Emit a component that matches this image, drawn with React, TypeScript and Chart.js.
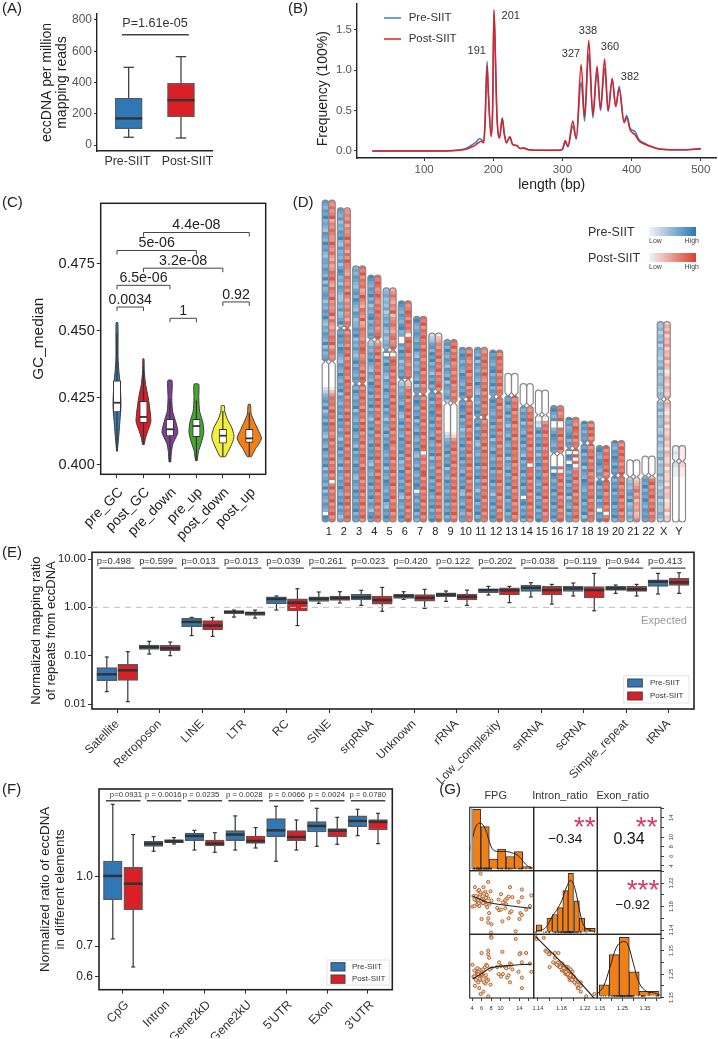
import React, { useEffect, useRef } from "react";
import { Chart, registerables } from "chart.js";
Chart.register(...registerables);

const FONT = '"Liberation Sans", Arial, sans-serif';
const BLUE = "#2f78b5";
const RED = "#da1f26";

// ---------- Panel A ----------
const aGroups = ["Pre-SIIT", "Post-SIIT"];
const aLow = [50, 45];
const aQ1 = [105, 182];
const aMed = [170, 287];
const aQ3 = [298, 395];
const aHigh = [497, 565];
const aTicks = [0, 200, 400, 600, 800];

// ---------- Panel B ----------
const bLengths = [25, 100, 140, 150, 160, 170, 175, 180, 183, 186, 188, 191, 193, 197, 199, 201, 203, 205, 209, 213, 216, 219, 224, 228, 234, 239, 244, 251, 270, 295, 300, 304, 308, 315, 320, 327, 332, 338, 344, 350, 355, 361, 366, 372, 377, 382, 389, 393, 398, 405, 410, 420, 430, 440, 460, 480, 500];
const bPre = [0, 0, 0.005, 0.012, 0.03, 0.08, 0.11, 0.15, 0.14, 0.11, 0.35, 1.11, 0.7, 0.18, 0.5, 1.72, 1.2, 0.5, 0.17, 0.41, 0.22, 0.11, 0.18, 0.08, 0.07, 0.03, 0.04, 0.015, 0.008, 0.008, 0.02, 0.11, 0.05, 0.31, 0.15, 0.85, 0.37, 1.2, 0.41, 0.98, 0.5, 1.02, 0.49, 0.88, 0.55, 0.8, 0.37, 0.44, 0.28, 0.24, 0.15, 0.09, 0.05, 0.025, 0.015, 0.015, 0.025];
const bPost = [0, 0, 0.004, 0.008, 0.02, 0.055, 0.08, 0.11, 0.12, 0.1, 0.3, 1.05, 0.7, 0.18, 0.5, 1.75, 1.2, 0.5, 0.16, 0.4, 0.2, 0.1, 0.17, 0.08, 0.065, 0.03, 0.035, 0.015, 0.008, 0.008, 0.02, 0.13, 0.06, 0.37, 0.15, 1.07, 0.42, 1.37, 0.45, 1.05, 0.52, 1.14, 0.5, 0.9, 0.55, 0.77, 0.35, 0.41, 0.26, 0.2, 0.13, 0.08, 0.05, 0.025, 0.015, 0.015, 0.03];
const bXTicks = [100, 200, 300, 400, 500];
const bYTicks = [0, 0.5, 1, 1.5];

// ---------- Panel C ----------
const cGroups = ["pre_GC", "post_GC", "pre_down", "pre_up", "post_down", "post_up"];
const cLevels = [
  [0.405, 0.41, 0.415, 0.42, 0.423, 0.43, 0.435, 0.44, 0.45, 0.453],
  [0.4075, 0.41, 0.413, 0.416, 0.42, 0.425, 0.43, 0.435, 0.4395],
  [0.401, 0.405, 0.408, 0.412, 0.416, 0.42, 0.425, 0.43, 0.4315],
  [0.4015, 0.405, 0.408, 0.412, 0.416, 0.42, 0.425, 0.43],
  [0.403, 0.406, 0.409, 0.411, 0.414, 0.417, 0.42, 0.422],
  [0.403, 0.406, 0.408, 0.41, 0.413, 0.416, 0.419, 0.4225],
];
const cHalfWidths = [
  [0.01, 0.06, 0.1, 0.14, 0.15, 0.12, 0.07, 0.04, 0.04, 0.03],
  [0.03, 0.08, 0.18, 0.28, 0.25, 0.18, 0.08, 0.03, 0.02],
  [0.03, 0.06, 0.12, 0.3, 0.22, 0.1, 0.07, 0.09, 0.07],
  [0.03, 0.08, 0.18, 0.28, 0.24, 0.12, 0.09, 0.09],
  [0.1, 0.26, 0.39, 0.42, 0.33, 0.17, 0.07, 0.06],
  [0.08, 0.24, 0.38, 0.46, 0.33, 0.19, 0.07, 0.04],
];
const cLow = [0.405, 0.4075, 0.401, 0.4015, 0.403, 0.403];
const cQ1 = [0.4197, 0.4157, 0.4107, 0.4104, 0.408, 0.4083];
const cMed = [0.4231, 0.4178, 0.4132, 0.4144, 0.4108, 0.4098];
const cQ3 = [0.4313, 0.4236, 0.4169, 0.4169, 0.4132, 0.4132];
const cHigh = [0.449, 0.4365, 0.4245, 0.424, 0.42, 0.4195];
const cColors = ["#3a7dba", "#d81e24", "#7e3f98", "#45a82e", "#f4ef3a", "#f57f17"];
const cTicks = [0.4, 0.425, 0.45, 0.475];
const cBrackets: [number, number, number, string][] = [
  [0, 1, 0.4588, "0.0034"],
  [2, 3, 0.4546, "1"],
  [4, 5, 0.4607, "0.92"],
  [0, 2, 0.4669, "6.5e-06"],
  [1, 4, 0.4733, "3.2e-08"],
  [0, 3, 0.4799, "5e-06"],
  [1, 5, 0.4866, "4.4e-08"],
];

// ---------- Panel D ----------
const chrNames = ["1", "2", "3", "4", "5", "6", "7", "8", "9", "10", "11", "12", "13", "14", "15", "16", "17", "18", "19", "20", "21", "22", "X", "Y"];
const chrLengths = [249, 243, 198, 191, 181, 171, 159, 146, 141, 135, 135, 133, 115, 107, 102, 90, 81, 78, 59, 63, 48, 51, 155, 59];
const chrCentromeres = [125, 93, 91, 50, 48, 61, 60, 45, 49, 40, 54, 36, 17, 17, 19, 37, 24, 17, 26, 27, 13, 15, 60, 12];
const prePArm = [
  "76576856547658675466576584756764657685465765847567",
  "7657465768547565746875647654465745684",
  "565765467586547645576846575468576576",
  "87657685746578576576",
  "4564546356575464565",
  "876576578560075867465768",
  "786567657685475657658476",
  "234675868576476857",
  "67586576476584765673",
  "7687576587657686",
  "7658476576586547657686",
  "86765785768576",
  "0",
  "0",
  "0",
  "786570056876576",
  "8675678576",
  "8675767",
  "7865786575",
  "86576875867",
  "0",
  "0",
  "445354635443546354454354",
  "11211",
];
const preQArm = [
  "00000000235675846758675476586576847567584765765087",
  "768675876547658657684765767586757647685765847657686576857646",
  "7586576847657686576485765867547658675768576",
  "34657686547658768576857647685765867685476576857685764786",
  "70758675476586576857647658576876576847658765768547686",
  "34656765875468576586768574658675768547657686",
  "7687576847658657685476586576870675768575",
  "7685768768576586576847657685768657685768",
  "0000000002356768576847658675768576857",
  "76876857646576857685765867685476586576",
  "76857685476576857685764768576857",
  "686765768576847658657685768576476857686",
  "768568576476586576847658576857685768576",
  "757684765868576485768576857707857685",
  "203268576857476857686576857685768",
  "000070875768576857685",
  "70870875768576847658576",
  "768576847658765768576847",
  "7857685760768",
  "85768576857685",
  "34546758456464",
  "57685768657676",
  "35463544534635435463544635435463544653",
  "2211100000000000000",
];
const postPArm = [
  "65756846576558657546457685476585656847546576846756",
  "5565746568576475866547657586465756476",
  "768576745865476584576657687567658587",
  "76875686576867675678",
  "4575465835675467568",
  "756875867507867857657668",
  "768576867586757685768576",
  "134657685768576785",
  "76857685675768567576",
  "7586576857685768",
  "6576867586576857685768",
  "75867685768576",
  "0",
  "0",
  "0",
  "675680076857685",
  "7658768576",
  "7586857",
  "8576876857",
  "75868675768",
  "0",
  "0",
  "243524352435243124324324",
  "11111",
];
const postQArm = [
  "00000000135767586758675685767585768570685768576857",
  "857675868576867586768576758685768576857685768576867586857686",
  "8576867586758685768576867587685768576857685",
  "25768586768576867586857685768576857685768586768576857686",
  "50687685768576858676857685768657685768576857685768576",
  "23576857686857685768576857685768576857685768",
  "8576857685768576870675768857685768576857",
  "8576876857685768576857685768576857685768",
  "0000000001257685768576857685768576857",
  "85768676857685768576857685768586768576",
  "85768576858676857685857685768576",
  "768576857685768576857685768576857685768",
  "857685768576857686768576857685768576857",
  "657685768576857687077685768576857685",
  "205768576857685768576857685768576",
  "000070768576857685768",
  "80807057685768576857685",
  "857685768576857685768576",
  "8768576857068",
  "76857685768576",
  "23457463545346",
  "36857685768576",
  "24321324132342314322413223142331224132",
  "2211100000000000000",
];

// ---------- Panel E ----------
const eCats = ["Satellite", "Retroposon", "LINE", "LTR", "RC", "SINE", "srpRNA", "Unknown", "rRNA", "Low_complexity", "snRNA", "scRNA", "Simple_repeat", "tRNA"];
const ePre = {
  low: [0.018, 0.108, 0.26, 0.63, 0.88, 1.21, 1.1, 1.46, 1.33, 1.8, 1.64, 1.72, 1.95, 1.89],
  q1: [0.0304, 0.135, 0.4, 0.74, 1.19, 1.33, 1.42, 1.53, 1.66, 2.01, 2.14, 2.14, 2.25, 2.72],
  med: [0.0411, 0.151, 0.5, 0.81, 1.49, 1.51, 1.61, 1.72, 1.83, 2.28, 2.55, 2.47, 2.47, 3.4],
  q3: [0.0565, 0.166, 0.59, 0.85, 1.66, 1.66, 1.86, 1.89, 2.01, 2.43, 2.9, 2.76, 2.72, 3.73],
  high: [0.094, 0.198, 0.62, 0.88, 1.72, 2.08, 2.25, 2.11, 2.18, 2.72, 3.24, 3.19, 2.9, 5.05],
};
const ePost = {
  low: [0.0112, 0.1, 0.25, 0.6, 0.42, 1.23, 0.83, 0.95, 1.1, 1.25, 1.17, 0.85, 1.72, 1.95],
  q1: [0.0309, 0.127, 0.34, 0.68, 0.84, 1.4, 1.17, 1.35, 1.42, 1.8, 1.8, 1.56, 2.14, 2.85],
  med: [0.0497, 0.142, 0.42, 0.76, 1.25, 1.56, 1.42, 1.58, 1.66, 2.25, 2.28, 2.28, 2.36, 3.29],
  q3: [0.066, 0.164, 0.53, 0.81, 1.51, 1.72, 1.72, 1.83, 1.89, 2.55, 2.72, 2.68, 2.72, 3.98],
  high: [0.121, 0.192, 0.62, 0.88, 2.43, 2.11, 2.59, 2.36, 2.28, 2.72, 2.99, 5.05, 2.99, 5.21],
};
const ePValues = ["p=0.498", "p=0.599", "p=0.013", "p=0.013", "p=0.039", "p=0.261", "p=0.023", "p=0.420", "p=0.122", "p=0.202", "p=0.038", "p=0.119", "p=0.944", "p=0.413"];
const eTicks = [0.01, 0.1, 1, 10];

// ---------- Panel F ----------
const fCats = ["CpG", "Intron", "Gene2kD", "Gene2kU", "5'UTR", "Exon", "3'UTR"];
const fPre = {
  low: [0.726, 1.137, 1.144, 1.144, 1.08, 1.166, 1.231],
  q1: [0.887, 1.166, 1.2, 1.2, 1.225, 1.255, 1.289],
  med: [1.002, 1.182, 1.229, 1.238, 1.265, 1.294, 1.327],
  q3: [1.081, 1.196, 1.247, 1.263, 1.343, 1.323, 1.362],
  high: [1.445, 1.225, 1.265, 1.362, 1.431, 1.416, 1.409],
};
const fPost = {
  low: [0.629, 1.18, 1.131, 1.156, 1.144, 1.178, 1.182],
  q1: [0.843, 1.188, 1.168, 1.184, 1.2, 1.225, 1.268],
  med: [0.963, 1.196, 1.182, 1.198, 1.223, 1.263, 1.321],
  q3: [1.047, 1.206, 1.204, 1.229, 1.263, 1.276, 1.336],
  high: [1.238, 1.219, 1.25, 1.283, 1.334, 1.352, 1.38],
};
const fPValues = ["p=0.0931", "p = 0.0016", "p = 0.0235", "p = 0.0028", "p = 0.0066", "p = 0.0024", "p = 0.0780"];
const fTicks = [0.6, 0.7, 1.0];

// ---------- Panel G ----------
const gFpg = [5.8, 7.4, 4.6, 5.3, 5.5, 5.8, 6.4, 6.8, 7.9, 12, 14.5, 14.5, 16.5, 4.3, 5, 5.7, 7, 7.4, 8.1, 10.1, 10.5, 11, 11.4, 11.7, 12.5, 4.1, 4.5, 5.5, 6, 6.7, 7, 7.6, 7.4, 7.4, 6, 10.4, 9.7, 10.1, 12, 11.7, 11, 14.2, 14.5, 15.4, 16.2, 14, 13.2, 8, 8.1, 4.5, 5, 5.2, 5.6, 6.1, 6.3, 6.6, 7.1, 7.7, 5.1, 5.9, 6.5, 7.2, 4.8, 5.4, 9.3, 9.6, 11.2, 12.3, 13.8, 6.9, 5.3];
const gIntron = [1.236, 1.222, 1.213, 1.207, 1.208, 1.204, 1.213, 1.205, 1.206, 1.213, 1.209, 1.196, 1.199, 1.198, 1.194, 1.2, 1.196, 1.194, 1.19, 1.201, 1.187, 1.191, 1.194, 1.197, 1.196, 1.18, 1.181, 1.181, 1.187, 1.188, 1.183, 1.169, 1.16, 1.153, 1.159, 1.155, 1.174, 1.175, 1.17, 1.16, 1.177, 1.169, 1.166, 1.175, 1.181, 1.159, 1.138, 1.136, 1.15, 1.192, 1.19, 1.188, 1.196, 1.193, 1.186, 1.194, 1.2, 1.185, 1.184, 1.19, 1.202, 1.179, 1.198, 1.186, 1.178, 1.192, 1.184, 1.172, 1.188, 1.195, 1.191];
const gExon = [1.165, 1.155, 1.2, 1.215, 1.19, 1.225, 1.175, 1.21, 1.205, 1.215, 1.19, 1.235, 1.26, 1.24, 1.25, 1.235, 1.23, 1.225, 1.275, 1.24, 1.25, 1.28, 1.235, 1.245, 1.27, 1.29, 1.265, 1.27, 1.255, 1.28, 1.29, 1.32, 1.335, 1.35, 1.34, 1.345, 1.3, 1.285, 1.295, 1.28, 1.28, 1.34, 1.3, 1.34, 1.295, 1.335, 1.4, 1.41, 1.405, 1.24, 1.255, 1.26, 1.23, 1.245, 1.27, 1.24, 1.22, 1.27, 1.275, 1.25, 1.215, 1.285, 1.225, 1.26, 1.28, 1.25, 1.275, 1.29, 1.26, 1.245, 1.25];
const gFpgBins = [4.95, 6.75, 8.5, 10.25, 12.05, 13.8, 15.6];
const gFpgCounts = [24, 17, 4, 8, 5, 7, 1];
const gIntronBins = [1.142, 1.16, 1.169, 1.178, 1.187, 1.196, 1.206, 1.215, 1.224, 1.233];
const gIntronCounts = [2, 4, 5, 7, 12, 17, 9, 4, 1, 1];
const gExonBins = [1.169, 1.2136, 1.258, 1.302, 1.347, 1.39];
const gExonCounts = [5, 19, 27, 11, 2, 2];
const gFpgDensX = [3.5, 4.27, 4.98, 5.82, 6.73, 7.65, 8.5, 9.9, 11.3, 12.7, 13.8, 14.8, 15.9, 16.8];
const gFpgDensY = [7, 13.7, 17.7, 18.4, 16.4, 11, 7.6, 7, 7, 6.3, 5.2, 3, 0.9, 0.4];
const gIntronDensX = [1.137, 1.147, 1.155, 1.164, 1.172, 1.181, 1.189, 1.196, 1.203, 1.212, 1.219, 1.229, 1.237];
const gIntronDensY = [0.2, 0.5, 1.5, 4.4, 6.3, 9.2, 13.1, 15, 12.6, 5.3, 1.5, 0.3, 0.1];
const gExonDensX = [1.138, 1.165, 1.195, 1.224, 1.25, 1.271, 1.298, 1.325, 1.358, 1.388, 1.417];
const gExonDensY = [0.8, 4.2, 13.4, 22.6, 25, 24.2, 15, 5.7, 1.9, 1.4, 0.2];
const gLoessFpgX = [4.1, 7.4, 16.5];
const gLoessIntronY = [1.198, 1.187, 1.177];
const gLoessFpgX2 = [4.1, 6.4, 7.8, 11.4, 16.5];
const gLoessExonY = [1.229, 1.257, 1.276, 1.286, 1.293];
const gLoessIntronX = [1.136, 1.194, 1.237];
const gLoessExonY2 = [1.411, 1.264, 1.143];

// ---------- helpers ----------
type Frame = { l: number; t: number; r: number; b: number };

function text(ctx: any, s: string, x: number, y: number, o: any = {}) {
  ctx.save();
  ctx.font = `${o.size || 11}px ${FONT}`;
  ctx.fillStyle = o.color || "#222";
  ctx.textAlign = o.align || "center";
  ctx.textBaseline = o.base || "middle";
  ctx.translate(x, y);
  if (o.rot) ctx.rotate(o.rot);
  ctx.fillText(s, 0, 0);
  ctx.restore();
}
function line(ctx: any, x1: number, y1: number, x2: number, y2: number, color = "#333", w = 1, dash?: number[]) {
  ctx.save();
  ctx.strokeStyle = color;
  ctx.lineWidth = w;
  if (dash) ctx.setLineDash(dash);
  ctx.beginPath();
  ctx.moveTo(x1, y1);
  ctx.lineTo(x2, y2);
  ctx.stroke();
  ctx.restore();
}

const boxParts = {
  id: "boxParts",
  beforeDatasetDraw(chart: any, args: any) {
    const ds = chart.data.datasets[args.index];
    if (!ds.whiskers) return;
    const y = chart.scales.y;
    const ctx = chart.ctx;
    args.meta.data.forEach((el: any, j: number) => {
      const [lo, hi] = ds.whiskers[j];
      line(ctx, el.x, y.getPixelForValue(lo), el.x, y.getPixelForValue(hi), ds.whiskerColor || "#333", ds.whiskerWidth || 1.2);
      if (ds.capWidth) {
        [lo, hi].forEach((v: number) => line(ctx, el.x - ds.capWidth / 2, y.getPixelForValue(v), el.x + ds.capWidth / 2, y.getPixelForValue(v), ds.whiskerColor || "#333", ds.whiskerWidth || 1.2));
      }
    });
  },
  afterDatasetDraw(chart: any, args: any) {
    const ds = chart.data.datasets[args.index];
    if (!ds.medians) return;
    const y = chart.scales.y;
    args.meta.data.forEach((el: any, j: number) => {
      const p = y.getPixelForValue(ds.medians[j]);
      line(chart.ctx, el.x - ds.barThickness / 2, p, el.x + ds.barThickness / 2, p, "#333", ds.medianWidth || 2);
    });
  },
};
Chart.register(boxParts as any);

function boxDataset(xs: number[], s: any, color: string, width: number, o: any = {}) {
  return {
    type: "bar",
    grouped: false,
    data: xs.map((x, i) => ({ x, y: [s.q1[i], s.q3[i]] })),
    whiskers: xs.map((_, i) => [s.low[i], s.high[i]]),
    medians: s.med,
    backgroundColor: color,
    borderColor: o.border || "#5a5a5a",
    borderWidth: o.borderWidth ?? 1.2,
    borderSkipped: false,
    barThickness: width,
    capWidth: o.cap ?? 4,
    medianWidth: o.medianWidth ?? 2,
    whiskerColor: o.whiskerColor,
    whiskerWidth: o.whiskerWidth,
    order: o.order ?? 1,
  };
}

function xAxis(min: number, max: number, vals: number[], o: any = {}) {
  return {
    type: "linear",
    min,
    max,
    offset: false,
    display: o.display ?? true,
    afterBuildTicks: (s: any) => {
      s.ticks = vals.map((v) => ({ value: v }));
    },
    grid: { display: o.tl !== 0, drawOnChartArea: false, drawTicks: true, tickLength: o.tl ?? 3, color: o.tickColor || "#333", offset: false, lineWidth: o.tickWidth ?? 1 },
    border: { display: o.border ?? false, color: o.borderColor || "#222", width: o.borderWidth ?? 1.4 },
    ticks: {
      display: o.labels ?? true,
      autoSkip: false,
      maxRotation: o.rot ?? 0,
      minRotation: o.rot ?? 0,
      padding: o.padding ?? 2,
      labelOffset: o.labelOffset ?? 0,
      font: { family: FONT, size: o.size ?? 12 },
      color: o.color || "#222",
      callback: o.fmt || ((v: any) => String(v)),
    },
  };
}

function yAxis(min: number, max: number, vals: number[], o: any = {}) {
  const t = o.title;
  return {
    type: o.log ? "logarithmic" : "linear",
    min,
    max,
    position: o.position || "left",
    display: o.display ?? true,
    afterBuildTicks: (s: any) => {
      s.ticks = vals.map((v) => ({ value: v }));
    },
    afterFit: (s: any) => {
      s.width = o.width ?? 0;
      s.paddingLeft = s.paddingRight = s.paddingTop = s.paddingBottom = 0;
    },
    grid: { display: o.tl !== 0, drawOnChartArea: false, drawTicks: true, tickLength: o.tl ?? 3, color: o.tickColor || "#333", lineWidth: o.tickWidth ?? 1 },
    border: { display: o.border ?? false, color: o.borderColor || "#222", width: o.borderWidth ?? 1.4 },
    title: t
      ? { display: true, text: t.lines, color: t.color || "#222", padding: 0, font: { family: FONT, size: t.size, lineHeight: t.lh / t.size } }
      : { display: false },
    ticks: {
      display: o.labels ?? true,
      padding: o.padding ?? 2,
      font: { family: FONT, size: o.size ?? 12 },
      color: o.color || "#222",
      callback: o.fmt || ((v: any) => String(v)),
    },
  };
}

// title helper: width needed so that the first line is centred on x
function titledWidth(plotLeft: number, firstCentre: number, lh: number) {
  return plotLeft - (firstCentre - lh / 2);
}

function baseOptions(f: Frame, scales: any, yWidth = 0) {
  const xHeight = Math.min(100, Math.floor(1039 - f.b) - 1);
  scales.x.afterFit = (s: any) => {
    s.height = xHeight;
    s.paddingLeft = s.paddingRight = s.paddingTop = s.paddingBottom = 0;
  };
  return {
    animation: false,
    responsive: false,
    devicePixelRatio: 1,
    events: [],
    layout: { padding: { left: f.l - yWidth, top: f.t, right: 718 - f.r, bottom: 1039 - f.b - xHeight } },
    plugins: { legend: { display: false }, tooltip: { enabled: false } },
    scales,
  };
}

function frameBox(color = "#222", w = 1.5) {
  return {
    id: "frameBox",
    afterDraw(chart: any) {
      const a = chart.chartArea;
      const c = chart.ctx;
      c.save();
      c.strokeStyle = color;
      c.lineWidth = w;
      c.strokeRect(a.left, a.top, a.right - a.left, a.bottom - a.top);
      c.restore();
    },
  };
}

function drawBoxLegend(c: any, x0: number, y0: number, x1: number, y1: number, sx: number, sw: number, sh: number, y1s: number, y2s: number, tx: number, size: number) {
  c.save();
  c.fillStyle = "#fff";
  c.fillRect(x0, y0, x1 - x0, y1 - y0);
  c.strokeStyle = "#e3e3e3";
  c.strokeRect(x0, y0, x1 - x0, y1 - y0);
  [[y1s, BLUE, "Pre-SIIT"], [y2s, RED, "Post-SIIT"]].forEach(([yy, col, lab]: any) => {
    c.fillStyle = col;
    c.fillRect(sx, yy, sw, sh);
    c.strokeStyle = "#444";
    c.strokeRect(sx, yy, sw, sh);
    text(c, lab, tx, yy + sh / 2, { size, align: "left", color: "#333" });
  });
  c.restore();
}

// ---------- panel configs ----------
function panelA() {
  const f = { l: 97, t: 14, r: 212, b: 151 };
  const lh = 14.7;
  const w = titledWidth(97, 47.3, lh);
  return {
    type: "bar",
    data: {
      datasets: [
        boxDataset([0], { low: [aLow[0]], q1: [aQ1[0]], med: [aMed[0]], q3: [aQ3[0]], high: [aHigh[0]] }, BLUE, 27, { cap: 10.5, medianWidth: 2.4 }),
        boxDataset([1], { low: [aLow[1]], q1: [aQ1[1]], med: [aMed[1]], q3: [aQ3[1]], high: [aHigh[1]] }, RED, 27, { cap: 10.5, medianWidth: 2.4 }),
      ],
    },
    options: baseOptions(
      f,
      {
        x: xAxis(-0.606, 1.593, [0, 1], { border: true, tl: 0, labels: false }),
        y: yAxis(-38, 838, aTicks, { width: w, border: true, size: 12, color: "#555", title: { lines: ["eccDNA per million", "mapping reads"], size: 14, lh } }),
      },
      w
    ),
    plugins: [
      {
        id: "a",
        afterDraw(chart: any) {
          const c = chart.ctx;
          text(c, "(A)", 2, 9, { size: 15, align: "left" });
          const y = chart.scales.y.getPixelForValue(706);
          line(c, chart.scales.x.getPixelForValue(-0.13), y, chart.scales.x.getPixelForValue(1.15), y, "#444", 1.5);
          text(c, "P=1.61e-05", 155, 24, { size: 12.6, color: "#333" });
          text(c, aGroups[0], 127.5, 161.5, { size: 12.4, color: "#333" });
          text(c, aGroups[1], 187.5, 161.5, { size: 12.4, color: "#333" });
        },
      },
    ],
  };
}

function panelB() {
  const f = { l: 357, t: 4, r: 716.7, b: 158 };
  const toXY = (ys: number[]) => bLengths.map((x, i) => ({ x, y: ys[i] }));
  const ds = (ys: number[], col: string) => ({ type: "line", data: toXY(ys), borderColor: col, borderWidth: 1.5, pointRadius: 0, cubicInterpolationMode: "monotone", fill: false });
  return {
    type: "line",
    data: { datasets: [ds(bPost, "#dd1f26"), ds(bPre, "#3a82bd")] },
    options: baseOptions(
      f,
      {
        x: xAxis(3, 523, bXTicks, { border: true, size: 11.5, color: "#555", padding: 2 }),
        y: yAxis(-0.087, 1.82, bYTicks, { width: 30, border: true, size: 11.5, color: "#555", fmt: (v: number) => v.toFixed(1) }),
      },
      30
    ),
    plugins: [
      {
        id: "b",
        afterDraw(chart: any) {
          const c = chart.ctx;
          text(c, "(B)", 288, 9, { size: 15, align: "left" });
          text(c, "length (bp)", 551.7, 185, { size: 14 });
          text(c, "Frequency (100%)", 322.7, 88.7, { size: 14, rot: -Math.PI / 2 });
          line(c, 384, 18, 401, 18, "#3a82bd", 1.5);
          line(c, 384, 39, 401, 39, "#dd1f26", 1.5);
          text(c, "Pre-SIIT", 408.7, 18, { size: 11.5, align: "left", color: "#333" });
          text(c, "Post-SIIT", 408.7, 39, { size: 11.5, align: "left", color: "#333" });
          const labs: [string, number, number][] = [["191", 476.7, 50.7], ["201", 510.7, 16], ["327", 571, 53.7], ["338", 588, 31], ["360", 610, 47], ["382", 630, 77]];
          labs.forEach(([s, x, y]) => text(c, s, x, y, { size: 11, color: "#333" }));
        },
      },
    ],
  };
}

function panelC() {
  const f = { l: 100.7, t: 203.3, r: 265.7, b: 474.3 };
  const lh = 17;
  const w = titledWidth(100.7, 39, lh);
  const violins = cGroups.map((_, i) => {
    const right = cLevels[i].map((y, k) => ({ x: i + cHalfWidths[i][k], y }));
    const left = cLevels[i].map((y, k) => ({ x: i - cHalfWidths[i][k], y })).reverse();
    return {
      type: "line",
      data: [...right, ...left, right[0]],
      borderColor: "#3d3d3d",
      borderWidth: 1,
      backgroundColor: cColors[i],
      fill: "shape",
      pointRadius: 0,
      tension: 0.2,
      order: 5,
    };
  });
  const idx = cGroups.map((_, i) => i);
  return {
    type: "bar",
    data: {
      datasets: [
        boxDataset(idx, { low: cLow, q1: cQ1, med: cMed, q3: cQ3, high: cHigh }, "#ffffff", 7.4, { cap: 0, border: "#333", borderWidth: 1, medianWidth: 1.8, order: 1 }),
        ...violins,
      ],
    },
    options: baseOptions(
      f,
      {
        x: xAxis(-0.616, 5.62, idx, { rot: 45, size: 14, padding: 6, tl: 4, labelOffset: 4, fmt: (v: number) => cGroups[v] }),
        y: yAxis(0.3964, 0.4975, cTicks, { width: w, size: 14.5, padding: 2, tl: 4, fmt: (v: number) => v.toFixed(3), title: { lines: ["GC_median"], size: 15.4, lh } }),
      },
      w
    ),
    plugins: [
      frameBox("#222", 1.5),
      {
        id: "c",
        afterDraw(chart: any) {
          const c = chart.ctx;
          text(c, "(C)", 2, 203, { size: 15, align: "left" });
          const X = chart.scales.x;
          const Y = chart.scales.y;
          cBrackets.forEach(([a, b, v, s]) => {
            const x0 = X.getPixelForValue(a);
            const x1 = X.getPixelForValue(b);
            const y = Y.getPixelForValue(v);
            c.save();
            c.strokeStyle = "#444";
            c.lineWidth = 1;
            c.beginPath();
            c.moveTo(x0, y + 4);
            c.lineTo(x0, y);
            c.lineTo(x1, y);
            c.lineTo(x1, y + 4);
            c.stroke();
            c.restore();
            text(c, s, (x0 + x1) / 2, y - 7.3, { size: 14.2 });
          });
        },
      },
    ],
  };
}

function levelColor(d: number, rgb: number[]) {
  const t = d / 9;
  const m = (k: number) => Math.round(255 + (rgb[k] - 255) * t);
  return `rgb(${m(0)},${m(1)},${m(2)})`;
}

function panelD() {
  const f = { l: 319.56, t: 200, r: 688.14, b: 522 };
  const dodge = 0.217;
  const bandSet = (pArm: string[], qArm: string[], sign: number, rgb: number[]) => {
    const data: any[] = [];
    const colors: string[] = [];
    chrNames.forEach((_, i) => {
      const L = chrLengths[i];
      const cen = chrCentromeres[i];
      const add = (s: string, a: number, b: number) => {
        const step = (b - a) / s.length;
        for (let k = 0; k < s.length; k++) {
          data.push({ x: i + sign * dodge, y: [L - (a + k * step), L - (a + (k + 1) * step)] });
          colors.push(levelColor(Number(s[k]), rgb));
        }
      };
      add(pArm[i], 0, cen);
      add(qArm[i], cen, L);
    });
    return { type: "bar", grouped: false, data, backgroundColor: colors, borderWidth: 0, barThickness: 6.4 };
  };
  const outline = (c: any, X: any, Y: any, i: number, sign: number) => {
    const cx = X.getPixelForValue(i + sign * dodge);
    const hw = 3.2;
    const top = Y.getPixelForValue(chrLengths[i]);
    const bot = Y.getPixelForValue(0);
    const mid = Y.getPixelForValue(chrLengths[i] - chrCentromeres[i]);
    const r = 3;
    c.moveTo(cx - hw, top + r);
    c.arcTo(cx - hw, top, cx, top, r);
    c.arcTo(cx + hw, top, cx + hw, top + r, r);
    c.lineTo(cx + hw, mid - 2.5);
    c.lineTo(cx + 0.8, mid);
    c.lineTo(cx + hw, mid + 2.5);
    c.lineTo(cx + hw, bot - r);
    c.arcTo(cx + hw, bot, cx, bot, r);
    c.arcTo(cx - hw, bot, cx - hw, bot - r, r);
    c.lineTo(cx - hw, mid + 2.5);
    c.lineTo(cx - 0.8, mid);
    c.lineTo(cx - hw, mid - 2.5);
    c.closePath();
  };
  const allOutlines = (chart: any) => {
    const c = chart.ctx;
    c.beginPath();
    chrNames.forEach((_, i) => {
      outline(c, chart.scales.x, chart.scales.y, i, -1);
      outline(c, chart.scales.x, chart.scales.y, i, 1);
    });
  };
  return {
    type: "bar",
    data: { datasets: [bandSet(prePArm, preQArm, -1, [40, 120, 181]), bandSet(postPArm, postQArm, 1, [220, 63, 44])] },
    options: baseOptions(f, {
      x: xAxis(-0.6, 23.6, chrNames.map((_, i) => i), { tl: 0, size: 11, padding: 3, fmt: (v: number) => chrNames[v] }),
      y: yAxis(0, 249, [], { display: false }),
    }),
    plugins: [
      {
        id: "d",
        beforeDatasetsDraw(chart: any) {
          chart.ctx.save();
          allOutlines(chart);
          chart.ctx.clip();
        },
        afterDatasetsDraw(chart: any) {
          const c = chart.ctx;
          c.restore();
          allOutlines(chart);
          c.strokeStyle = "#8a8a8a";
          c.lineWidth = 1.2;
          c.stroke();
        },
        afterDraw(chart: any) {
          const c = chart.ctx;
          text(c, "(D)", 292.7, 202.7, { size: 15, align: "left" });
          const leg: [string, number, string][] = [["Pre-SIIT", 233, "#2878b5"], ["Post-SIIT", 259, "#dc3f2c"]];
          leg.forEach(([s, y, col]) => {
            text(c, s, 588, y, { size: 12.5, align: "left", color: "#333" });
            const g = c.createLinearGradient(649, 0, 696, 0);
            g.addColorStop(0, "#f4f4f4");
            g.addColorStop(1, col);
            c.fillStyle = g;
            c.fillRect(649, y - 6, 47, 9);
            text(c, "Low", 649, y + 8, { size: 7, align: "left", color: "#444" });
            text(c, "High", 699, y + 8, { size: 7, align: "right", color: "#444" });
          });
        },
      },
    ],
  };
}

function groupedPanel(f: Frame, cats: string[], pre: any, post: any, o: any) {
  const idx = cats.map((_, i) => i);
  const lh = o.lh;
  const w = titledWidth(f.l, o.titleX, lh);
  return {
    type: "bar",
    data: {
      datasets: [
        boxDataset(idx.map((i) => i - o.dodge), pre, BLUE, o.barWidth, { cap: 4, medianWidth: 2.5, borderWidth: 1.4 }),
        boxDataset(idx.map((i) => i + o.dodge), post, RED, o.barWidth, { cap: 4, medianWidth: 2.5, borderWidth: 1.4 }),
      ],
    },
    options: baseOptions(
      f,
      {
        x: xAxis(o.xMin, o.xMax, idx, { rot: 45, size: o.xSize, padding: 4, tl: 4, labelOffset: o.labelOffset ?? 0, fmt: (v: number) => cats[v], color: "#333" }),
        y: yAxis(o.yMin, o.yMax, o.ticks, { log: true, width: w, size: o.ySize, tl: 4, padding: 2, fmt: o.fmt, title: { lines: o.titleLines, size: o.titleSize, lh } }),
      },
      w
    ),
    plugins: [frameBox("#222", 1.6), { id: "g", afterDraw: o.afterDraw }],
  };
}

function panelE() {
  return groupedPanel({ l: 92, t: 552.3, r: 694, b: 709 }, eCats, ePre, ePost, {
    dodge: 0.2476,
    barWidth: 20,
    xMin: -0.597,
    xMax: 13.6,
    yMin: 0.00788,
    yMax: 13.8,
    ticks: eTicks,
    fmt: (v: number) => v.toFixed(2),
    xSize: 12,
    ySize: 11.2,
    titleLines: ["Normalized mapping ratio", "of repeats from eccDNA"],
    titleSize: 13,
    lh: 15.7,
    titleX: 36,
    afterDraw(chart: any) {
      const c = chart.ctx;
      text(c, "(E)", 2, 552.7, { size: 15, align: "left" });
      const X = chart.scales.x;
      const Y = chart.scales.y;
      line(c, X.left, Y.getPixelForValue(1), X.right, Y.getPixelForValue(1), "#bdbdbd", 1, [6, 5]);
      text(c, "Expected", 664, 620.7, { size: 11, color: "#9a9a9a" });
      ePValues.forEach((p, i) => {
        const x = X.getPixelForValue(i);
        const y = Y.getPixelForValue(6.5);
        line(c, x - 18, y, x + 17, y, "#444", 1.4);
        text(c, p, x - 3.5, 561.3, { size: 9.4, color: "#333" });
      });
      drawBoxLegend(c, 623.7, 675.7, 689, 703, 627.7, 14.6, 8, 679, 692, 650, 8);
    },
  });
}

function panelF() {
  const centres = [126, 163.3, 201, 244.3, 286.7, 326.7, 367.7];
  return groupedPanel({ l: 99, t: 789, r: 392.3, b: 989.7 }, fCats, fPre, fPost, {
    dodge: 0.25,
    barWidth: 18.7,
    xMin: -0.588,
    xMax: 6.6,
    yMin: 0.56,
    yMax: 1.563,
    ticks: fTicks,
    fmt: (v: number) => v.toFixed(1),
    xSize: 12.4,
    ySize: 12,
    labelOffset: 4,
    titleLines: ["Normalized ratio of eccDNA", "in different elements"],
    titleSize: 13.4,
    lh: 15,
    titleX: 45.7,
    afterDraw(chart: any) {
      const c = chart.ctx;
      text(c, "(F)", 2, 790, { size: 15, align: "left" });
      const X = chart.scales.x;
      fPValues.forEach((p, i) => {
        const x = X.getPixelForValue(i);
        line(c, x - 17, 800.7, x + 17.5, 800.7, "#444", 1.4);
        text(c, p, centres[i], 794.7, { size: 7.7, color: "#333" });
      });
      drawBoxLegend(c, 327, 960, 389.3, 985, 331, 14, 8.3, 962.7, 975, 352, 8);
    },
  });
}

// Panel G: 3 x 3 cells
const gX = [469.7, 533.7, 597.3, 661];
const gY = [807.3, 870.7, 934.3, 998];
const gXRanges = [[3.5, 17], [1.133, 1.241], [1.138, 1.421]];
const gYRanges = [[3, 16.2], [1.133, 1.241], [1.148, 1.42]];
const gXLabels = [[4, 6, 8, 10, 14], [1.14, 1.18, 1.22], [1.15, 1.25, 1.35]];
const gXMarks = [[4, 6, 8, 10, 12, 14, 16], [1.14, 1.16, 1.18, 1.2, 1.22], [1.15, 1.2, 1.25, 1.3, 1.35, 1.4]];
const gYMarks = [[4, 6, 8, 10, 12, 14, 16], [1.14, 1.16, 1.18, 1.2, 1.22, 1.24], [1.15, 1.2, 1.25, 1.3, 1.35, 1.4]];
const gYLabels = [[4, 6, 8, 10, 14], [1.14, 1.18, 1.22], [1.15, 1.25, 1.35]];
const gDecimals = [0, 2, 2];

function gCell(row: number, col: number, datasets: any[], opts: any = {}) {
  const f = { l: gX[col], r: gX[col + 1], t: gY[row], b: gY[row + 1] };
  const isBottom = row === 2;
  const isRight = col === 2;
  const yr = opts.yr || gYRanges[row];
  const scales: any = {
    x: xAxis(gXRanges[col][0], gXRanges[col][1], isBottom ? gXMarks[col] : [], {
      tl: isBottom ? 3 : 0,
      labels: isBottom,
      size: 5.6,
      padding: 4,
      tickColor: "#444",
      color: "#333",
      fmt: (v: number) => (gXLabels[col].some((l) => Math.abs(l - v) < 1e-6) ? v.toFixed(gDecimals[col]) : ""),
    }),
    y: yAxis(yr[0], yr[1], [], { display: false }),
  };
  if (isRight) {
    scales.yr = yAxis(gYRanges[row][0], gYRanges[row][1], gYMarks[row], { position: "right", tl: 3, labels: false, tickColor: "#444" });
  }
  return {
    type: "bar",
    data: { datasets },
    options: baseOptions(f, scales),
    plugins: [
      frameBox("#222", 1.1),
      {
        id: "cell",
        afterDraw(chart: any) {
          const c = chart.ctx;
          if (isRight) {
            gYLabels[row].forEach((v) => {
              text(c, v.toFixed(gDecimals[row]), 671, chart.scales.yr.getPixelForValue(v), { size: 5.6, rot: -Math.PI / 2, color: "#333" });
            });
          }
          if (opts.rug) {
            const b = chart.chartArea.bottom;
            opts.rug.forEach((v: number) => line(c, chart.scales.x.getPixelForValue(v), b - 3, chart.scales.x.getPixelForValue(v), b - 1.2, "#222", 0.7));
          }
          if (opts.draw) opts.draw(c);
        },
      },
    ],
  };
}

function histCell(i: number, bins: number[], counts: number[], thick: number, densX: number[], densY: number[], yr: number[], rug: number[], draw?: any) {
  return gCell(
    i,
    i,
    [
      { type: "line", data: densX.map((x, k) => ({ x, y: densY[k] })), borderColor: "#222", borderWidth: 1, pointRadius: 0, tension: 0.4, fill: false, order: 1 },
      { type: "bar", grouped: false, data: bins.map((x, k) => ({ x, y: counts[k] })), backgroundColor: "#f07f17", borderColor: "#333", borderWidth: 1, barThickness: thick, order: 2 },
    ],
    { yr, rug, draw }
  );
}

function scatterCell(row: number, col: number, xs: number[], ys: number[], lx: number[], ly: number[]) {
  return gCell(row, col, [
    { type: "line", data: lx.map((x, k) => ({ x, y: ly[k] })), borderColor: "#222", borderWidth: 1.2, pointRadius: 0, tension: 0.3, fill: false, order: 1 },
    { type: "scatter", data: xs.map((x, k) => ({ x, y: ys[k] })), pointRadius: 1.6, pointBackgroundColor: "#efd9c4", pointBorderColor: "#b4652f", pointBorderWidth: 1, showLine: false, order: 2 },
  ]);
}

const STAR = "#d83a62";
function stars(c: any, s: string, x: number, y: number) {
  text(c, s, x, y + 16, { size: 28, color: STAR, base: "alphabetic" });
}

function panelG() {
  return [
    histCell(0, gFpgBins, gFpgCounts, 8.4, gFpgDensX, gFpgDensY, [-0.7, 24.8], gFpg, (c: any) => {
      c.fillStyle = "#b5b5b5";
      c.fillRect(470.3, 808, 2.4, 61);
      text(c, "(G)", 439.3, 790, { size: 15, align: "left" });
      text(c, "FPG", 495.7, 796, { size: 11, color: "#333" });
      text(c, "Intron_ratio", 560, 796, { size: 11, color: "#333" });
      text(c, "Exon_ratio", 622.7, 796, { size: 11, color: "#333" });
    }),
    gCell(0, 1, [], {
      draw: (c: any) => {
        text(c, "\u22120.34", 565.3, 839.3, { size: 13.5, color: "#111" });
        stars(c, "**", 584.7, 820);
      },
    }),
    gCell(0, 2, [], {
      draw: (c: any) => {
        text(c, "0.34", 629, 839.3, { size: 16, color: "#111" });
        stars(c, "**", 646.7, 820);
      },
    }),
    scatterCell(1, 0, gFpg, gIntron, gLoessFpgX, gLoessIntronY),
    histCell(1, gIntronBins, gIntronCounts, 5.4, gIntronDensX, gIntronDensY, [-0.77, 17.8], gIntron),
    gCell(1, 2, [], {
      draw: (c: any) => {
        text(c, "\u22120.92", 632.7, 905, { size: 13.5, color: "#111" });
        stars(c, "***", 643, 883);
      },
    }),
    scatterCell(2, 0, gFpg, gExon, gLoessFpgX2, gLoessExonY),
    scatterCell(2, 1, gIntron, gExon, gLoessIntronX, gLoessExonY2),
    histCell(2, gExonBins, gExonCounts, 10, gExonDensX, gExonDensY, [-1.07, 28.4], gExon),
  ];
}

function ChartCanvas({ config }: { config: any }) {
  const ref = useRef<HTMLCanvasElement>(null);
  useEffect(() => {
    const chart = new Chart(ref.current as any, config);
    return () => chart.destroy();
  }, [config]);
  return <canvas ref={ref} width={718} height={1039} style={{ position: "absolute", left: 0, top: 0, display: "block" }} />;
}

const configs = [panelA(), panelB(), panelC(), panelD(), panelE(), panelF(), ...panelG()];

export default function App() {
  return (
    <div style={{ position: "absolute", left: 0, top: 0, width: 718, height: 1039, background: "#fff", overflow: "hidden" }}>
      {configs.map((c, i) => (
        <ChartCanvas key={i} config={c} />
      ))}
    </div>
  );
}
